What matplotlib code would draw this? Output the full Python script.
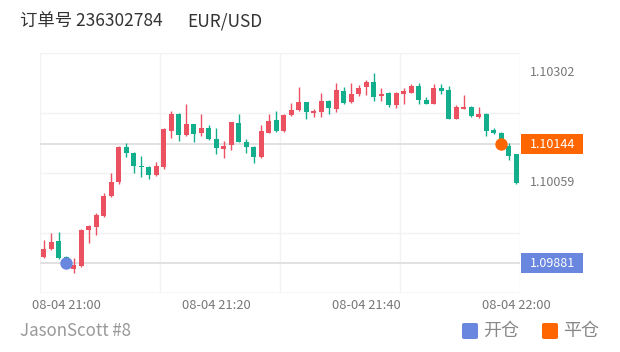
import matplotlib
matplotlib.use('Agg')
import matplotlib.pyplot as plt
import matplotlib.transforms as mtransforms
from matplotlib.patches import Rectangle, FancyBboxPatch
import numpy as np

plt.rcParams['font.family'] = ['Noto Sans CJK SC', 'DejaVu Sans']

# 1-minute candles 20:57 .. 22:00
opens = [1.09895, 1.09913, 1.09929, 1.09894, 1.09868, 1.09875, 1.09955, 1.09962, 1.09986, 1.10030,
         1.10061, 1.10139, 1.10125, 1.10096, 1.10093, 1.10075, 1.10094, 1.10174, 1.10211, 1.10164,
         1.10189, 1.10170, 1.10179, 1.10155, 1.10134, 1.10142, 1.10192, 1.10150, 1.10139, 1.10115,
         1.10170, 1.10198, 1.10174, 1.10209, 1.10220, 1.10237, 1.10214, 1.10215, 1.10239, 1.10222,
         1.10262, 1.10237, 1.10256, 1.10270, 1.10282, 1.10250, 1.10258, 1.10232, 1.10256, 1.10258,
         1.10273, 1.10243, 1.10234, 1.10268, 1.10264, 1.10200, 1.10223, 1.10227, 1.10205, 1.10212,
         1.10175, 1.10170, 1.10140, 1.10122]
closes = [1.09913, 1.09927, 1.09892, 1.09884, 1.09876, 1.09955, 1.09963, 1.09988, 1.10030, 1.10061,
          1.10139, 1.10125, 1.10096, 1.10094, 1.10076, 1.10096, 1.10177, 1.10211, 1.10164, 1.10188,
          1.10167, 1.10179, 1.10155, 1.10135, 1.10140, 1.10193, 1.10150, 1.10137, 1.10115, 1.10173,
          1.10196, 1.10174, 1.10209, 1.10220, 1.10238, 1.10216, 1.10217, 1.10240, 1.10225, 1.10264,
          1.10236, 1.10256, 1.10269, 1.10282, 1.10248, 1.10256, 1.10232, 1.10258, 1.10262, 1.10273,
          1.10242, 1.10234, 1.10268, 1.10262, 1.10201, 1.10227, 1.10227, 1.10207, 1.10212, 1.10173,
          1.10168, 1.10150, 1.10119, 1.10059]
highs = [1.09932, 1.09948, 1.09949, 1.09897, 1.09893, 1.09957, 1.09966, 1.09993, 1.10037, 1.10080,
         1.10140, 1.10147, 1.10127, 1.10119, 1.10095, 1.10105, 1.10179, 1.10217, 1.10214, 1.10234,
         1.10190, 1.10212, 1.10187, 1.10181, 1.10152, 1.10194, 1.10210, 1.10156, 1.10140, 1.10187,
         1.10212, 1.10217, 1.10210, 1.10236, 1.10271, 1.10238, 1.10223, 1.10258, 1.10241, 1.10280,
         1.10271, 1.10280, 1.10276, 1.10286, 1.10302, 1.10269, 1.10259, 1.10259, 1.10268, 1.10277,
         1.10280, 1.10249, 1.10277, 1.10277, 1.10273, 1.10231, 1.10253, 1.10228, 1.10226, 1.10214,
         1.10181, 1.10171, 1.10147, 1.10122]
lows = [1.09893, 1.09910, 1.09891, 1.09877, 1.09860, 1.09873, 1.09926, 1.09944, 1.09984, 1.10027,
        1.10056, 1.10116, 1.10081, 1.10071, 1.10067, 1.10073, 1.10089, 1.10157, 1.10151, 1.10163,
        1.10150, 1.10163, 1.10153, 1.10122, 1.10113, 1.10131, 1.10148, 1.10125, 1.10102, 1.10114,
        1.10168, 1.10172, 1.10172, 1.10207, 1.10218, 1.10201, 1.10204, 1.10204, 1.10212, 1.10216,
        1.10234, 1.10235, 1.10250, 1.10253, 1.10240, 1.10240, 1.10227, 1.10225, 1.10234, 1.10257,
        1.10234, 1.10233, 1.10233, 1.10255, 1.10200, 1.10199, 1.10222, 1.10205, 1.10203, 1.10162,
        1.10166, 1.10146, 1.10109, 1.10056]

tick_idx = [3, 23, 43, 63]
tick_labels = ['08-04 21:00', '08-04 21:20', '08-04 21:40', '08-04 22:00']

open_idx, open_price = 3, 1.09881
close_idx, close_price = 61, 1.10144
max_price, last_price = 1.10302, 1.10059

order_title = '订单号 236302784'
symbol = 'EUR/USD'
user = 'JasonScott #8'
legend_names = ['开仓', '平仓']

RED = '#ec5162'
GREEN = '#13ae8b'
BLUE = '#6a87e0'
ORANGE = '#ff6600'

W, H = 620, 352
fig = plt.figure(figsize=(W / 100, H / 100), dpi=100)
ax = fig.add_axes([40 / W, (H - 293) / H, 480 / W, 240 / H])

ylo, yhi = 1.09815, 1.10346
ax.set_ylim(ylo, yhi)
ax.set_xlim(-0.5, len(opens) - 0.5)
px = (yhi - ylo) / 240  # price per pixel

# split lines
for y in np.linspace(ylo, yhi, 5):
    ax.axhline(y, color='#f2f2f2', lw=1, zorder=0)
for x in [-0.5, 15.5, 31.5, 47.5, 63.5]:
    ax.axvline(x, color='#f2f2f2', lw=1, zorder=0)
ax.axhline(ylo, color='#ececec', lw=1, zorder=0)

# open / close price lines
ax.axhline(open_price, color='#e1e1e1', lw=1.4, zorder=1)
ax.axhline(close_price, color='#e1e1e1', lw=1.4, zorder=1)

xs = np.arange(len(opens))
o = np.array(opens)
c = np.array(closes)
cols = [RED if cc >= oo else GREEN for oo, cc in zip(o, c)]
ax.vlines(xs, lows, highs, colors=cols, lw=1.0, zorder=2)
body_h = np.maximum(np.abs(c - o), px * 1.2)
ax.bar(xs, body_h, bottom=np.minimum(o, c), width=0.7, color=cols, zorder=3)

ax.scatter([open_idx], [open_price], s=80, color=BLUE, zorder=5, linewidths=0)
ax.scatter([close_idx], [close_price], s=80, color=ORANGE, zorder=5, linewidths=0)

for s in ax.spines.values():
    s.set_visible(False)
ax.set_yticks([])
ax.set_xticks(tick_idx)
ax.set_xticklabels(tick_labels, fontsize=9.3, color='#777777')
shift = mtransforms.ScaledTranslation(4 / 100, 0, fig.dpi_scale_trans)
for lbl in ax.get_xticklabels():
    lbl.set_transform(lbl.get_transform() + shift)
ax.tick_params(axis='x', length=0, pad=4)

# right-side price labels
bt = mtransforms.blended_transform_factory(ax.transAxes, ax.transData)
for price, bg in [(max_price, None), (close_price, ORANGE), (last_price, None), (open_price, BLUE)]:
    if bg is not None:
        ax.add_patch(Rectangle((1.0015, price - 10 * px), 62 / 480, 20 * px, transform=bt,
                               facecolor=bg, edgecolor='none', clip_on=False, zorder=6))
    ax.text(1 + 10 / 480, price, f'{price:.5f}', transform=bt, fontsize=9,
            color='white' if bg else '#777777', va='center', ha='left', zorder=7)

# title
fig.text(20 / W, 1 - 21 / H, order_title, fontsize=12.5, color='#333333', va='center')
fig.text(187 / W, 1 - 21 / H, symbol, fontsize=12.5, color='#333333', va='center')

# footer
fig.text(20 / W, 1 - 331 / H, user, fontsize=12.2, color='#999999', va='center')
for (x0, col), name in zip([(462, BLUE), (542, ORANGE)], legend_names):
    fig.patches.append(FancyBboxPatch((x0 / W, 1 - 339 / H), 16 / W, 16 / H,
                                      boxstyle='round,pad=0,rounding_size=0.004',
                                      transform=fig.transFigure, facecolor=col, edgecolor='none'))
    fig.text((x0 + 21) / W, 1 - 331 / H, name, fontsize=13, color='#888888', va='center')

fig.savefig('out.png', dpi=100)
